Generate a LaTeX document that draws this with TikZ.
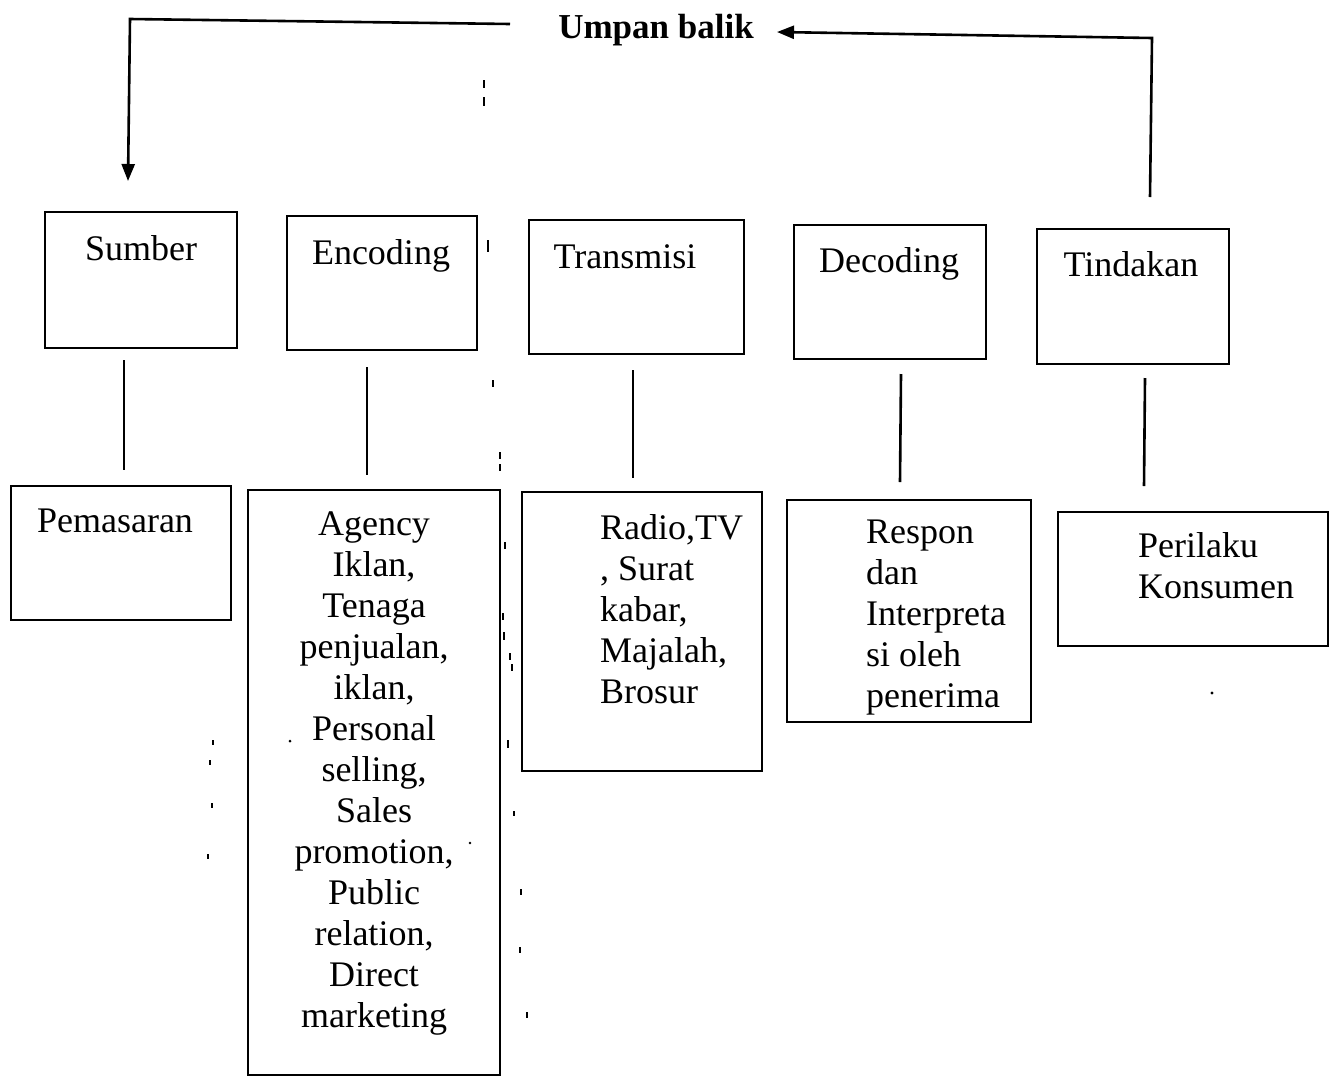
\documentclass[tikz,border=0pt]{standalone}
\usepackage{fontspec}
\setmainfont{Liberation Serif}
\usetikzlibrary{arrows.meta,fit}
\begin{document}
\begin{tikzpicture}[x=1pt,y=-1pt,
  box/.style={draw,line width=2.8pt,inner sep=0pt,rectangle},
  lbl/.style={inner sep=0pt,font=\fontsize{36}{41}\selectfont},
  conn/.style={line width=2.6pt},
  fb/.style={line width=2.6pt},
  tip/.style={-{Triangle[length=17pt,width=13pt]}},
  speck/.style={line width=2pt}]
\useasboundingbox (0,0) rectangle (1330,1077);
% top row boxes
\node[box,fit={(45,212) (237,348)}] (sumber) {};
\node[box,fit={(287,216) (477,350)}] (encoding) {};
\node[box,fit={(529,220) (744,354)}] (transmisi) {};
\node[box,fit={(794,225) (986,359)}] (decoding) {};
\node[box,fit={(1037,229) (1229,364)}] (tindakan) {};
\node[lbl,anchor=base] (sumberT) at (141,260) {Sumber};
\node[lbl,anchor=base] (encodingT) at (381,264) {Encoding};
\node[lbl,anchor=base] (transmisiT) at (625,268) {Transmisi};
\node[lbl,anchor=base] (decodingT) at (889,272) {Decoding};
\node[lbl,anchor=base] (tindakanT) at (1131,276) {Tindakan};
% bottom row boxes
\node[box,fit={(11,486) (231,620)}] (pemasaran) {};
\node[box,fit={(248,490) (500,1075)}] (media) {};
\node[box,fit={(522,492) (762,771)}] (saluran) {};
\node[box,fit={(787,500) (1031,722)}] (respon) {};
\node[box,fit={(1058,512) (1328,646)}] (perilaku) {};
\node[lbl,anchor=base] (pemasaranT) at (115,532) {Pemasaran};
\node[lbl,anchor=base,align=center] (mediaT) at (374,1027) {Agency\\Iklan,\\Tenaga\\penjualan,\\iklan,\\Personal\\selling,\\Sales\\promotion,\\Public\\relation,\\Direct\\marketing};
\node[lbl,anchor=base west,align=left] (saluranT) at (600,703) {Radio,TV\\, Surat\\kabar,\\Majalah,\\Brosur};
\node[lbl,anchor=base west,align=left] (responT) at (866,707) {Respon\\dan\\Interpreta\\si oleh\\penerima};
\node[lbl,anchor=base west,align=left] (perilakuT) at (1138,598) {Perilaku\\Konsumen};
% feedback label
\node[lbl,anchor=base,font=\fontsize{35}{41}\selectfont\bfseries] (umpan) at (656,38) {Umpan balik};
% vertical connectors (with gaps)
\coordinate (c1a) at (124,360); \coordinate (c1b) at (124,470);
\coordinate (c2a) at (367,367); \coordinate (c2b) at (367,475);
\coordinate (c3a) at (633,370); \coordinate (c3b) at (633,478);
\coordinate (c4a) at (901,374); \coordinate (c4b) at (900,482);
\coordinate (c5a) at (1145,378); \coordinate (c5b) at (1144,486);
\draw[conn] (c1a) -- (c1b);
\draw[conn] (c2a) -- (c2b);
\draw[conn] (c3a) -- (c3b);
\draw[conn] (c4a) -- (c4b);
\draw[conn] (c5a) -- (c5b);
% feedback loop
\coordinate (fbL) at (510,24);
\coordinate (fbLc) at (130,19);
\coordinate (fbLe) at (128,181);
\draw[fb,tip] (fbL) -- (fbLc) -- (fbLe);
\coordinate (fbR) at (1150,197);
\coordinate (fbRc) at (1152,38);
\coordinate (fbRe) at (777,32);
\draw[fb,tip] (fbR) -- (fbRc) -- (fbRe);
% scan specks
\foreach \x/\ya/\yb in {484/80/88, 484/97/106, 488/240/252, 493/380/387, 500/452/459, 500/464/471,
  505/542/549, 503/613/620, 504/632/640, 510/653/660, 512/664/671, 508/740/748,
  514/811/816, 521/889/895, 520/947/953, 527/1012/1018, 213/740/745, 210/760/765,
  212/803/808, 208/854/859}
  \draw[speck] (\x,\ya) -- (\x,\yb);
\fill (290,741) circle (1.5pt);
\fill (470,843) circle (1.3pt);
\fill (1212,693) circle (1.6pt);
\end{tikzpicture}
\end{document}
